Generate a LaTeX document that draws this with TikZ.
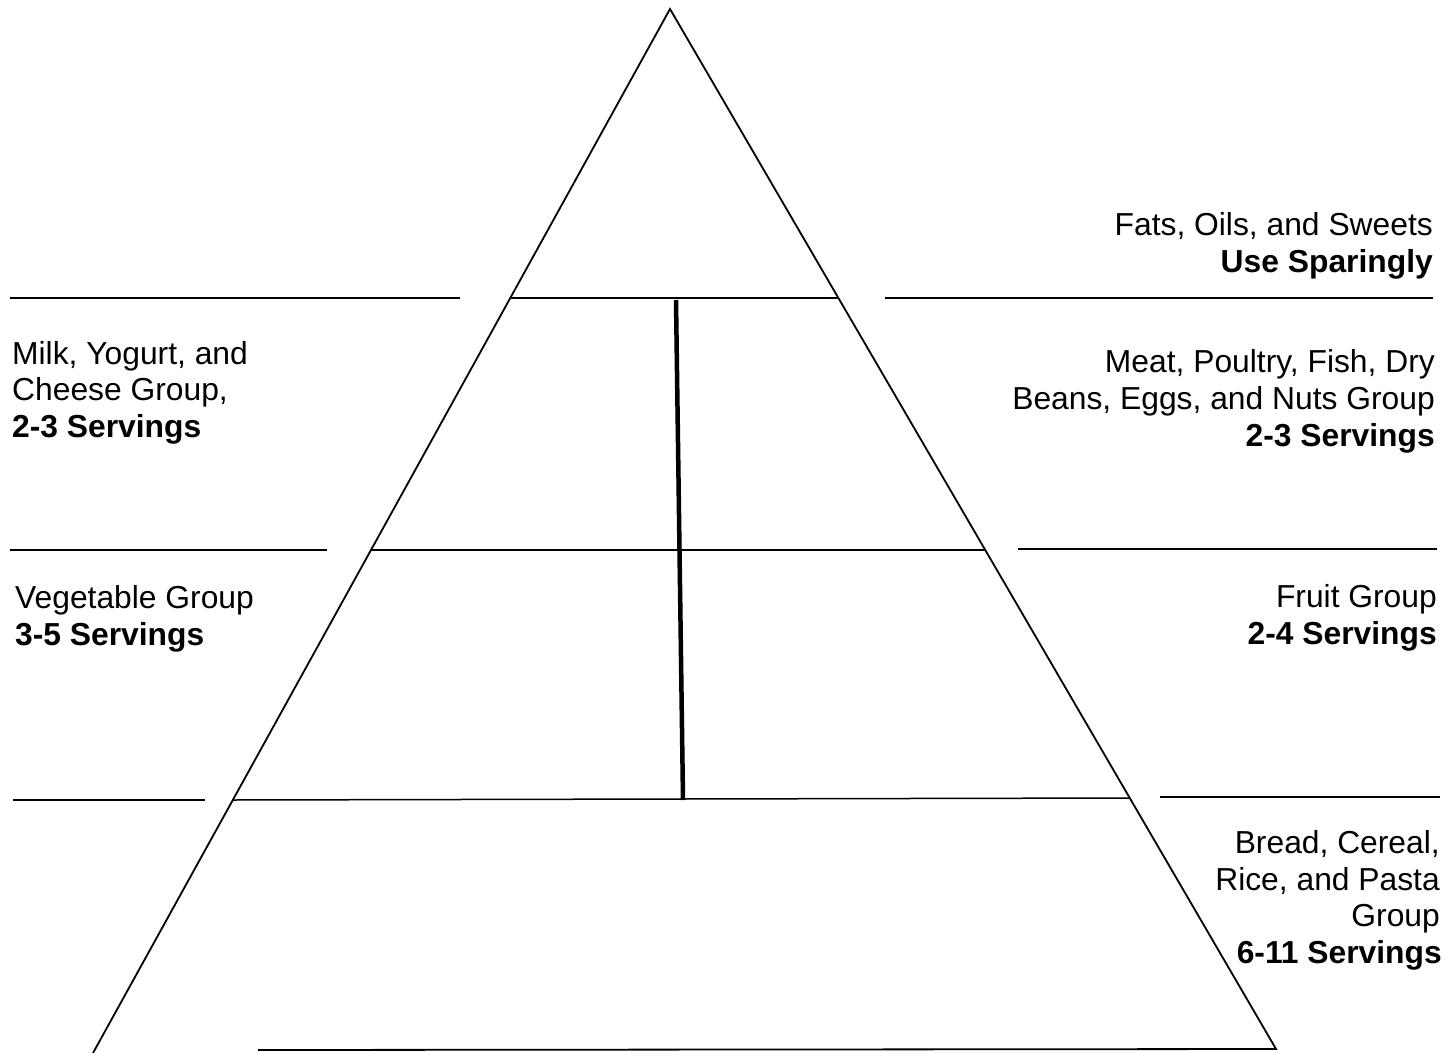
\documentclass[tikz,border=0pt]{standalone}
\usepackage{fontspec}
\setmainfont{Liberation Sans}
\begin{document}
\begin{tikzpicture}[x=1pt,y=-1pt,
  side/.style={line width=1.8pt,line join=miter},
  rule/.style={line width=1.5pt},
  axis/.style={line width=4.5pt},
  lbl/.style={inner sep=0pt,font=\fontsize{31.8}{37}\selectfont},
  lblb/.style={lbl,font=\fontsize{31.8}{37}\selectfont\bfseries}]
\useasboundingbox[fill=white] (0,0) rectangle (1456,1052);
% pyramid
\coordinate (apex) at (670,9);
\coordinate (bl) at (93,1053);
\coordinate (br) at (1276,1049);
\coordinate (bs) at (258,1050);
\draw[side] (bl) -- (apex) -- (br) -- (bs);
% level 1
\coordinate (a1) at (10,298); \coordinate (a2) at (460,298);
\coordinate (a3) at (510,298); \coordinate (a4) at (838,298);
\coordinate (a5) at (885,298); \coordinate (a6) at (1433,298);
\draw[rule] (a1) -- (a2); \draw[rule] (a3) -- (a4); \draw[rule] (a5) -- (a6);
% level 2
\coordinate (b1) at (10,550); \coordinate (b2) at (327,550);
\coordinate (b3) at (371,550); \coordinate (b4) at (985,550);
\coordinate (b5) at (1018,549); \coordinate (b6) at (1437,549);
\draw[rule] (b1) -- (b2); \draw[rule] (b3) -- (b4); \draw[rule] (b5) -- (b6);
% level 3
\coordinate (c1) at (13,800); \coordinate (c2) at (205,800);
\coordinate (c3) at (232,800); \coordinate (c4) at (1130,798);
\coordinate (c5) at (1160,797); \coordinate (c6) at (1440,797);
\draw[rule] (c1) -- (c2); \draw[rule] (c3) -- (c4); \draw[rule] (c5) -- (c6);
% vertical divider
\coordinate (v1) at (676,300); \coordinate (v2) at (683,800);
\draw[axis] (v1) -- (v2);
% labels right
\node[lbl,anchor=base east] (f1) at (1433,235) {Fats, Oils, and Sweets};
\node[lblb,anchor=base east] (f2) at (1433,272) {Use Sparingly};
\node[lbl,anchor=base east] (m1) at (1435,372) {Meat, Poultry, Fish, Dry};
\node[lbl,anchor=base east] (m2) at (1435,409) {Beans, Eggs, and Nuts Group};
\node[lblb,anchor=base east] (m3) at (1435,446) {2-3 Servings};
\node[lbl,anchor=base east] (fr1) at (1437,607) {Fruit Group};
\node[lblb,anchor=base east] (fr2) at (1437,644) {2-4 Servings};
\node[lbl,anchor=base east] (br1) at (1440,853) {Bread, Cereal,};
\node[lbl,anchor=base east] (br2) at (1440,890) {Rice, and Pasta};
\node[lbl,anchor=base east] (br3) at (1440,926) {Group};
\node[lblb,anchor=base east] (br4) at (1442,963) {6-11 Servings};
% labels left
\node[lbl,anchor=base west] (k1) at (12,364) {Milk, Yogurt, and};
\node[lbl,anchor=base west] (k2) at (12,400) {Cheese Group,};
\node[lblb,anchor=base west] (k3) at (12,437) {2-3 Servings};
\node[lbl,anchor=base west] (g1) at (15,608) {Vegetable Group};
\node[lblb,anchor=base west] (g2) at (15,645) {3-5 Servings};
\end{tikzpicture}
\end{document}
